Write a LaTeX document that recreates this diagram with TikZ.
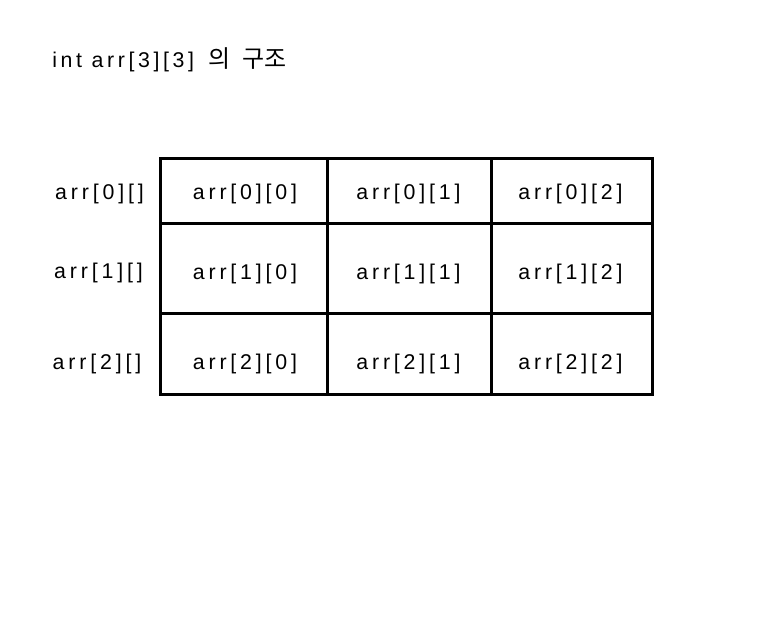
\documentclass[tikz,border=0pt]{standalone}
\usepackage{fontspec}
\setmainfont{Liberation Sans}[LetterSpace=18]
\newfontfamily\titlefont{Liberation Sans}[LetterSpace=17]
\newfontfamily\kr{Noto Sans CJK KR}
\usetikzlibrary{positioning}
\tikzset{
  cell/.style={font=\fontsize{16}{18}\selectfont, inner sep=0pt, anchor=base},
  rowlabel/.style={cell},
  heading/.style={font=\fontsize{16}{18}\selectfont\titlefont, inner sep=0pt, anchor=base west},
  gridline/.style={line width=2.25pt, line cap=rect}
}

\begin{document}
\begin{tikzpicture}[x=0.75pt, y=-0.75pt]
\useasboundingbox (0,0) rectangle (764,628);

% Title
\node[heading] (title) at (52,67) {int arr[3][3]\hspace{11pt}{\kr\fontsize{18}{20}\selectfont 의\hspace{9pt}구조}};

% Grid
\coordinate (nw) at (160,158);
\coordinate (se) at (652,394);
\draw[gridline] (nw) rectangle (se);
\draw[gridline] (327,158) -- (327,394);
\draw[gridline] (491,158) -- (491,394);
\draw[gridline] (160,223) -- (652,223);
\draw[gridline] (160,313) -- (652,313);

% Row labels
\node[rowlabel] (r0) at (99.5,199) {arr[0][]};
\node[rowlabel] (r1) at (98.5,278) {arr[1][]};
\node[rowlabel] (r2) at (97,369) {arr[2][]};

% Cells
\node[cell] (a00) at (245,199) {arr[0][0]};
\node[cell] (a01) at (408.5,199) {arr[0][1]};
\node[cell] (a02) at (570.5,199) {arr[0][2]};
\node[cell] (a10) at (245,279) {arr[1][0]};
\node[cell] (a11) at (408.5,279) {arr[1][1]};
\node[cell] (a12) at (570.5,279) {arr[1][2]};
\node[cell] (a20) at (245,369) {arr[2][0]};
\node[cell] (a21) at (408.5,369) {arr[2][1]};
\node[cell] (a22) at (570.5,369) {arr[2][2]};
\end{tikzpicture}
\end{document}
